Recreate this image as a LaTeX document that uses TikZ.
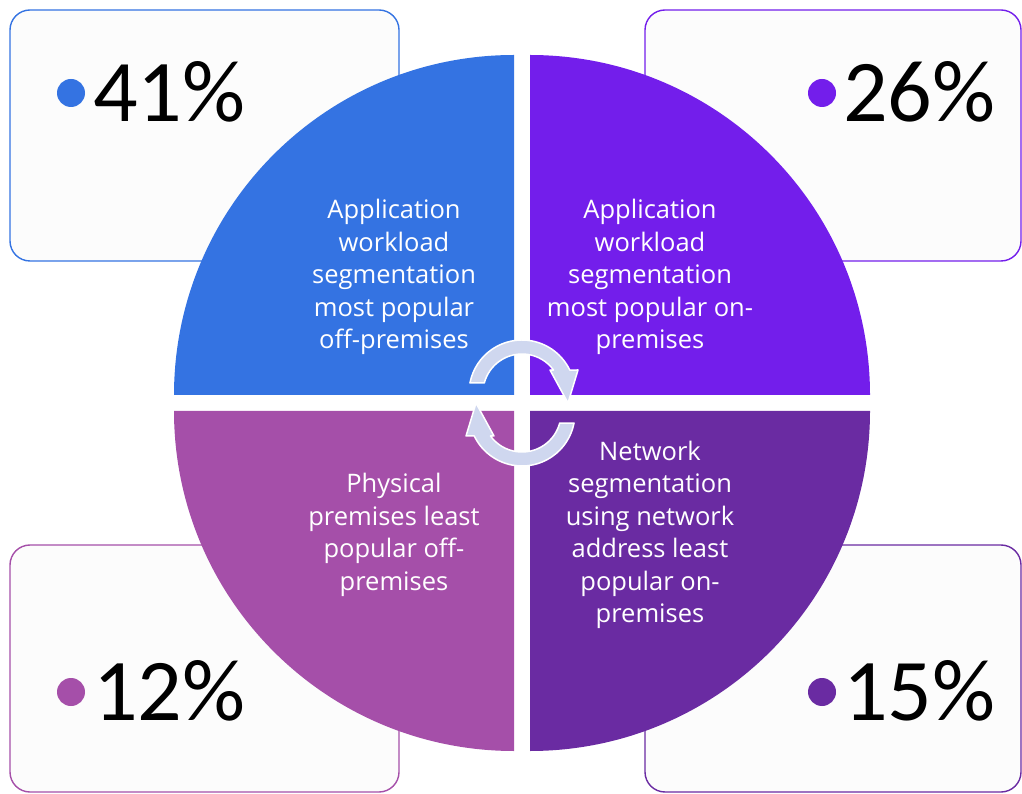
\documentclass[tikz,border=0pt]{standalone}
\usepackage{fontspec}
\setmainfont{Carlito}
\newfontfamily\labelfont{Open Sans}
\definecolor{qblue}{HTML}{3473E2}
\definecolor{qviolet}{HTML}{731EEB}
\definecolor{qorchid}{HTML}{A54FA9}
\definecolor{qpurple}{HTML}{6A2BA2}
\definecolor{cardfill}{HTML}{FCFCFC}
\definecolor{cycfill}{HTML}{CFD7EF}
\begin{document}
\begin{tikzpicture}[x=1pt,y=1pt,
  card/.style={draw=#1, line width=1.4pt, fill=cardfill, rounded corners=20pt},
  bullet/.style={circle, fill=#1, minimum size=28pt, inner sep=0pt},
  pct/.style={font=\fontsize{88}{88}\selectfont, anchor=base west, inner sep=0pt},
  qtext/.style={text=white, align=center, inner sep=0pt,
    font=\labelfont\fontsize{25.5}{32.5}\selectfont},
  cyc/.style={fill=cycfill, draw=white, line width=1.5pt, line join=round}]
\useasboundingbox (0,0) rectangle (1022,793);

% value cards behind the circle
\path[card=qblue]   (10,532) rectangle (399,783);
\path[card=qviolet] (645,532) rectangle (1021,783);
\path[card=qorchid] (10,1) rectangle (399,248);
\path[card=qpurple] (645,1) rectangle (1021,248);

% four quarter discs
\fill[qblue]   (514,398) -- ++(-340,0) arc[start angle=180, end angle=90, radius=340] -- cycle;
\fill[qviolet] (530,398) -- ++(0,340) arc[start angle=90, end angle=0, radius=340] -- cycle;
\fill[qorchid] (514,382) -- ++(0,-340) arc[start angle=270, end angle=180, radius=340] -- cycle;
\fill[qpurple] (530,382) -- ++(340,0) arc[start angle=0, end angle=-90, radius=340] -- cycle;

% percentages
\node[bullet=qblue]   (d41) at (71,700) {};
\node[pct] (p41) at (93,671) {41\%};
\node[bullet=qviolet] (d26) at (822,700) {};
\node[pct] (p26) at (843,671) {26\%};
\node[bullet=qorchid] (d12) at (71,101) {};
\node[pct] (p12) at (93,73) {12\%};
\node[bullet=qpurple] (d15) at (822,101) {};
\node[pct] (p15) at (843,73) {15\%};

% quadrant captions
\node[qtext] (tl) at (394,516) {Application\\workload\\segmentation\\most popular\\off-premises};
\node[qtext] (tr) at (650,516) {Application\\workload\\segmentation\\most popular on-\\premises};
\node[qtext] (bl) at (394,258) {Physical\\premises least\\popular off-\\premises};
\node[qtext] (br) at (650,258) {Network\\segmentation\\using network\\address least\\popular on-\\premises};

% circular arrows in the middle
\foreach \cx/\cy/\rot in {522/400/0, 522/380/180}{
  \begin{scope}[shift={(\cx,\cy)}, rotate=\rot]
    \path[cyc] (169.1:53) arc[start angle=169.1, end angle=25.7, radius=53]
      -- (56,23) -- (46,-10) -- (28,23) -- (36:39)
      arc[start angle=36, end angle=165.1, radius=39] -- cycle;
  \end{scope}
}
\end{tikzpicture}
\end{document}
